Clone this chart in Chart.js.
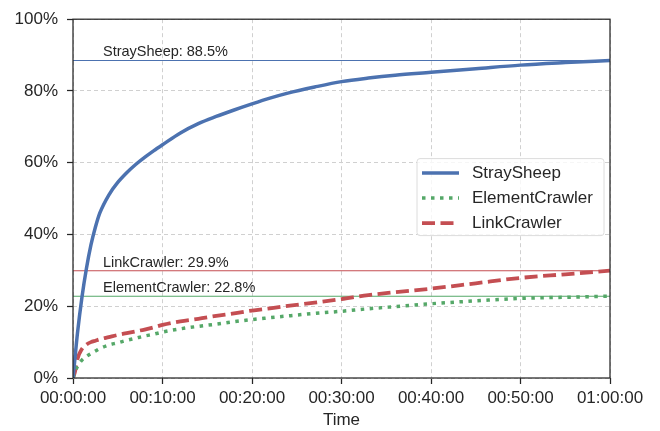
<!DOCTYPE html>
<html>
<head>
<meta charset="utf-8">
<script src="https://cdn.jsdelivr.net/npm/chart.js@4.4.1/dist/chart.umd.min.js"></script>
<style>
  html, body { margin: 0; padding: 0; background: #fff; }
  #wrap { width: 660px; height: 431px; }
</style>
</head>
<body>
<div id="wrap"><canvas id="chart" width="660" height="431"></canvas></div>
<script>
// elapsed time in minutes
const minutes = [0, 0.2, 0.5, 1, 1.5, 2, 2.5, 3, 4, 5, 6, 7, 8, 9, 10, 12, 14, 16, 18, 20, 22, 24, 27, 30, 33, 36, 40, 45, 50, 55, 60];

// coverage in %
const straySheep = [0, 5, 12.5, 22.5, 30.5, 37, 42, 46, 51, 54.5, 57.2, 59.5, 61.5, 63.3, 65.0, 68.3, 70.9, 72.9, 74.7, 76.4, 78.0, 79.4, 81.1, 82.6, 83.6, 84.4, 85.2, 86.2, 87.2, 87.9, 88.5];
const elementCrawler = [0, 1.5, 3.2, 5, 6, 6.8, 7.5, 8.2, 9.2, 9.8, 10.5, 11.1, 11.7, 12.2, 12.8, 13.7, 14.4, 15.0, 15.7, 16.3, 16.8, 17.3, 18.0, 18.6, 19.3, 19.9, 20.7, 21.5, 22.2, 22.5, 22.8];
const linkCrawler = [0, 1.5, 5.3, 8.1, 9.3, 10, 10.4, 10.8, 11.4, 12, 12.5, 13, 13.5, 14.1, 14.8, 15.8, 16.5, 17.3, 18.0, 18.8, 19.4, 20.1, 21.0, 22.0, 23.1, 23.9, 24.9, 26.4, 27.9, 28.9, 29.9];

const finalNames = ['StraySheep', 'LinkCrawler', 'ElementCrawler'];
const finalValues = [88.5, 29.9, 22.8];

const xTicks = [0, 10, 20, 30, 40, 50, 60];
const xTickLabels = ['00:00:00', '00:10:00', '00:20:00', '00:30:00', '00:40:00', '00:50:00', '01:00:00'];
const yTicks = [0, 20, 40, 60, 80, 100];

const BLUE = '#4c72b0', GREEN = '#55a868', RED = '#c44e52', INK = '#262626';
const FONT = "'Liberation Sans', Arial, sans-serif";

const toPoints = vals => minutes.map((m, i) => ({ x: m, y: vals[i] }));
const flat = v => [{ x: 0, y: v }, { x: 60, y: v }];

// frame round the plot area, like matplotlib spines
const frame = {
  id: 'frame',
  afterDatasetsDraw(chart) {
    const { ctx, chartArea: a } = chart;
    ctx.save();
    ctx.strokeStyle = INK;
    ctx.lineWidth = 1.25;
    ctx.strokeRect(a.left, a.top, a.right - a.left, a.bottom - a.top);
    ctx.restore();
  }
};

// text above the final value lines
const finalLabels = {
  id: 'finalLabels',
  afterDatasetsDraw(chart) {
    const { ctx, scales } = chart;
    ctx.save();
    ctx.font = '14.5px ' + FONT;
    ctx.fillStyle = INK;
    ctx.textBaseline = 'alphabetic';
    finalValues.forEach((v, i) => {
      const x = scales.x.getPixelForValue(3.35);
      const y = scales.y.getPixelForValue(v) - 4;
      ctx.fillText(finalNames[i] + ': ' + v.toFixed(1) + '%', x, y);
    });
    ctx.restore();
  }
};

// legend box, center right
const legendBox = {
  id: 'legendBox',
  afterDraw(chart) {
    const { ctx, chartArea: a } = chart;
    const items = chart.data.datasets.filter(d => d.inLegend);
    const w = 187, h = 77;
    const x = a.right - 6 - w;
    const y = (a.top + a.bottom) / 2 - 40;
    ctx.save();
    ctx.beginPath();
    ctx.roundRect(x, y, w, h, 3);
    ctx.fillStyle = 'rgba(255,255,255,0.8)';
    ctx.fill();
    ctx.strokeStyle = '#dcdcdc';
    ctx.lineWidth = 1;
    ctx.stroke();
    ctx.font = '17px ' + FONT;
    ctx.textBaseline = 'middle';
    items.forEach((d, i) => {
      const ry = y + 14.5 + i * 25;
      ctx.beginPath();
      ctx.strokeStyle = d.borderColor;
      ctx.lineWidth = d.borderWidth;
      ctx.lineCap = 'butt';
      ctx.setLineDash(d.borderDash || []);
      ctx.moveTo(x + 5, ry);
      ctx.lineTo(x + 42, ry);
      ctx.stroke();
      ctx.setLineDash([]);
      ctx.fillStyle = INK;
      ctx.fillText(d.label, x + 55, ry);
    });
    ctx.restore();
  }
};

new Chart(document.getElementById('chart'), {
  type: 'line',
  data: {
    datasets: [
      { label: 'StraySheep', data: toPoints(straySheep), borderColor: BLUE, borderWidth: 3.5, inLegend: true, cubicInterpolationMode: 'monotone' },
      { label: 'ElementCrawler', data: toPoints(elementCrawler), borderColor: GREEN, borderWidth: 3.5, borderDash: [3.5, 5.5], inLegend: true, cubicInterpolationMode: 'monotone' },
      { label: 'LinkCrawler', data: toPoints(linkCrawler), borderColor: RED, borderWidth: 3.8, borderDash: [13, 5.5], inLegend: true, cubicInterpolationMode: 'monotone' },
      { label: 'StraySheep final', data: flat(finalValues[0]), borderColor: BLUE, borderWidth: 1.1 },
      { label: 'LinkCrawler final', data: flat(finalValues[1]), borderColor: RED, borderWidth: 1.1 },
      { label: 'ElementCrawler final', data: flat(finalValues[2]), borderColor: GREEN, borderWidth: 1.1 }
    ]
  },
  options: {
    responsive: false,
    animation: false,
    elements: {
      point: { radius: 0, hoverRadius: 0 },
      line: { tension: 0, borderCapStyle: 'butt', borderJoinStyle: 'round' }
    },
    layout: { padding: { top: 12, right: 50, left: 0, bottom: 0 } },
    plugins: {
      legend: { display: false },
      tooltip: { enabled: false }
    },
    scales: {
      x: {
        type: 'linear',
        min: 0,
        max: 60,
        afterBuildTicks: s => { s.ticks = xTicks.map(v => ({ value: v })); },
        afterFit: s => { s.height = 53; },
        ticks: {
          callback: (v, i) => xTickLabels[i],
          font: { family: FONT, size: 17 },
          color: INK,
          padding: 4,
          maxRotation: 0,
          autoSkip: false
        },
        grid: {
          color: '#d0d0d0',
          lineWidth: 1,
          tickLength: 6,
          tickColor: INK,
          tickWidth: 1.25,
          tickBorderDash: []
        },
        border: { display: false, dash: [4, 3] },
        title: {
          display: true,
          text: 'Time',
          font: { family: FONT, size: 17 },
          color: INK,
          padding: { top: 0, bottom: 0 }
        }
      },
      y: {
        min: 0,
        max: 100,
        afterBuildTicks: s => { s.ticks = yTicks.map(v => ({ value: v })); },
        afterFit: s => { s.width = 73; },
        ticks: {
          callback: v => v + '%',
          font: { family: FONT, size: 17 },
          color: INK,
          padding: 9
        },
        grid: {
          color: '#d0d0d0',
          lineWidth: 1,
          tickLength: 6,
          tickColor: INK,
          tickWidth: 1.25,
          tickBorderDash: []
        },
        border: { display: false, dash: [4, 3] }
      }
    }
  },
  plugins: [frame, finalLabels, legendBox]
});
</script>
</body>
</html>
